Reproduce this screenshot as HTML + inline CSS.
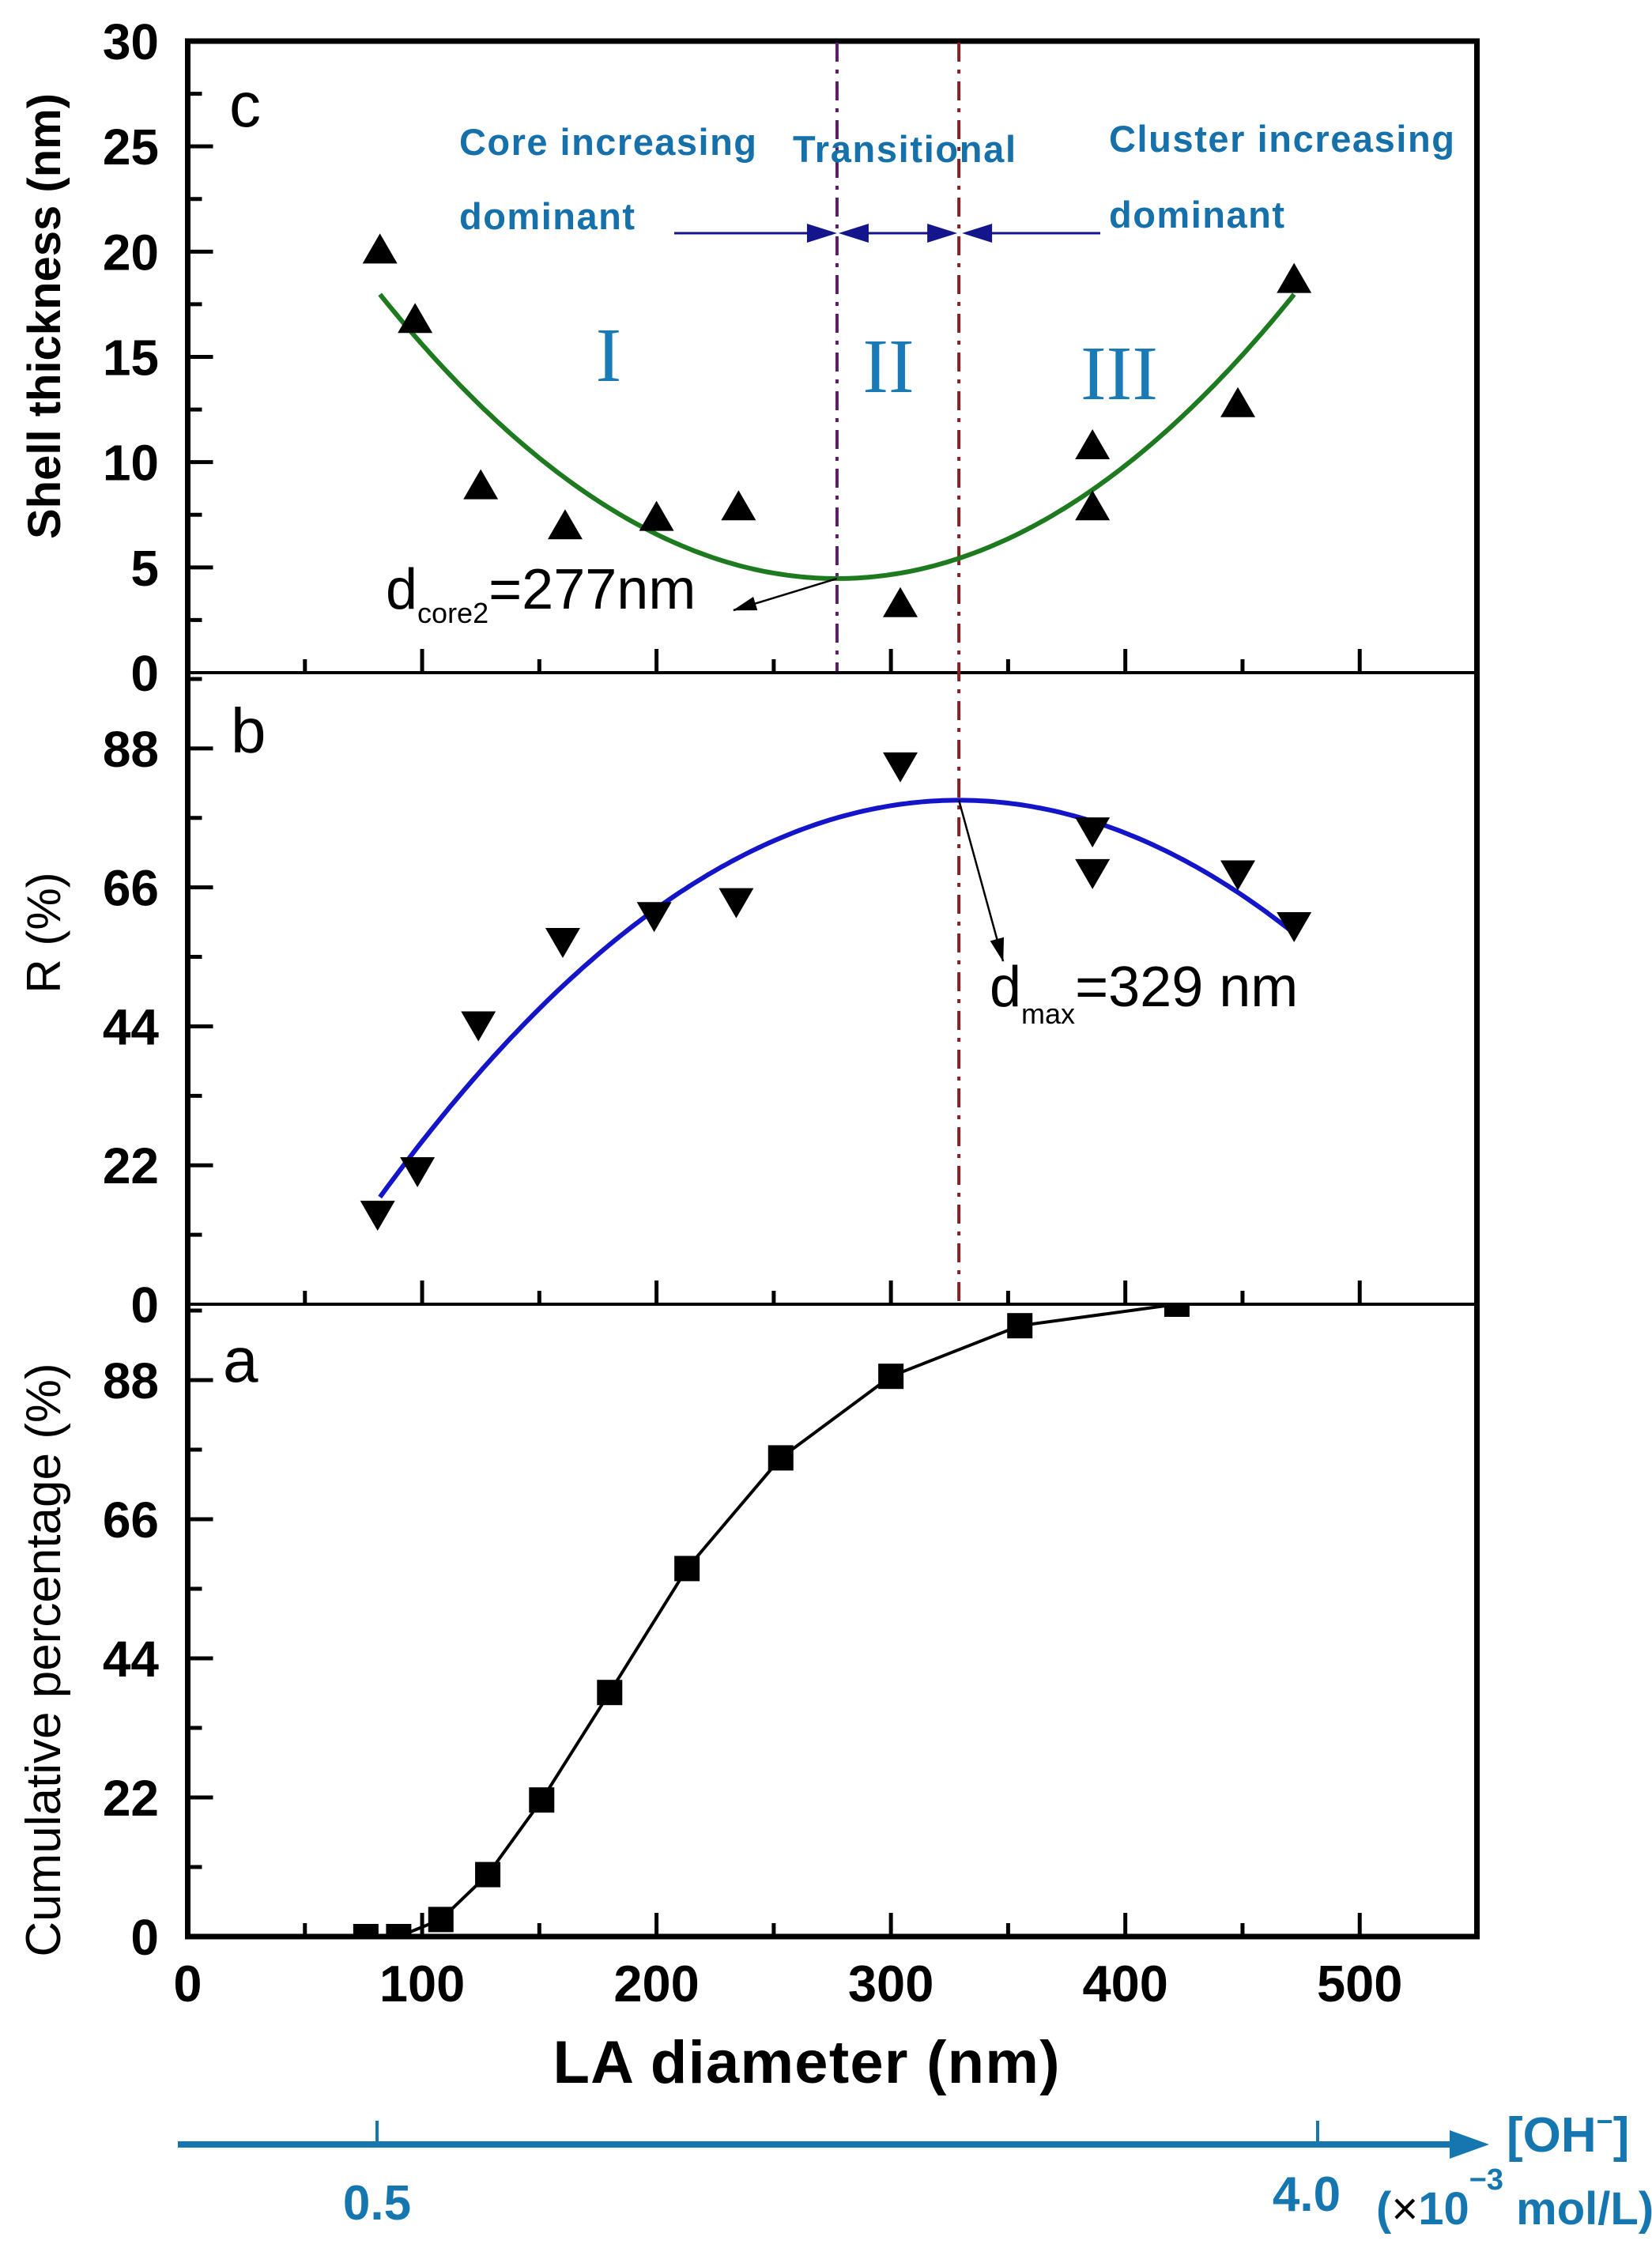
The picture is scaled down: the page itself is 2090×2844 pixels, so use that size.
<!DOCTYPE html>
<html><head><meta charset="utf-8"><style>
html,body{margin:0;padding:0;background:#fff;}
svg{display:block;}
text{font-family:"Liberation Sans",Arial,sans-serif;}
</style></head><body>
<svg id="chart" width="2090" height="2844" viewBox="0 0 2090 2844" xmlns="http://www.w3.org/2000/svg">
<defs>
<clipPath id="clipA"><rect x="237" y="1650" width="1632" height="800"/></clipPath>
<marker id="ah" markerWidth="30" markerHeight="18" refX="29" refY="9" orient="auto" markerUnits="userSpaceOnUse" viewBox="0 0 30 18"><path d="M0,0 L30,9 L0,18 z" fill="#000"/></marker>
</defs>
<g id="layer"></g>
</svg>
<script>
// ---- data ----
const xTicks = [0,100,200,300,400,500];
const cTicks = [0,5,10,15,20,25,30];
const bTicks = [0,22,44,66,88];
const aTicks = [0,22,44,66,88];
const shellX = [82,97,125,161,200,235,304,386,386,448,472];
const shellY = [20.0,16.7,8.8,6.9,7.3,7.8,3.2,10.7,7.8,12.7,18.6];
const shellFit = [277, 4.47, 0.000355]; // vertex x, vertex y, curvature
const shellFitRange = [82,472];
const rX = [81,98,124,160,199,234,304,386,386,448,472];
const rY = [14.5,21.4,44.5,57.7,61.8,64.0,85.5,75.2,68.6,68.4,60.2];
const rFit = [329, 79.8, 0.00103];
const rFitRange = [82,472];
const cumX = [76,90,108,128,151,180,213,253,300,355,422];
const cumY = [0,0,2.7,9.8,21.6,38.6,58.2,75.7,88.6,96.6,100];
const dCore = 277, dMax = 329;

// ---- layout ----
const L=237.5, R=1868.5, X0=0, X1=550;
const panels = {c:{top:52,bot:851,max:30}, b:{top:851,bot:1650,max:100}, a:{top:1650,bot:2450,max:100}};
const sx = v => L + (v - X0) / (X1 - X0) * (R - L);
const sy = (p, v) => panels[p].bot - v / panels[p].max * (panels[p].bot - panels[p].top);

const NS = "http://www.w3.org/2000/svg";
const g = document.getElementById('layer');
function mk(tag, attrs, parent){
  const e = document.createElementNS(NS, tag);
  for (const k in attrs) e.setAttribute(k, attrs[k]);
  (parent || g).appendChild(e);
  return e;
}
function txt(x,y,s,size,opts){
  const t = mk('text',{x:x,y:y,'font-size':size});
  if(opts){for(const k in opts) t.setAttribute(k,opts[k]);}
  t.textContent = s;
  return t;
}

['c','b','a'].forEach(p => {
  const P = panels[p];
  for (let v = 0; v <= 550; v += 50) {
    const major = v % 100 === 0;
    if (v === 0 || v === 550) continue;
    const t = mk('line',{x1:sx(v),x2:sx(v),y1:P.bot,y2:P.bot-(major?30:17),stroke:'#000','stroke-width':5});
    
    
  }
  const ticks = p==='c'?cTicks:(p==='b'?bTicks:aTicks);
  const step = ticks[1]-ticks[0];
  for (let i=0;i<ticks.length;i++){
    const v=ticks[i];
    const y=sy(p,v);
    if (v>0){
      const t = mk('line',{x1:L,x2:L+32,y1:y,y2:y,stroke:'#000','stroke-width':5});
      
      
    }
    const mv = v + step/2;
    if (mv < P.max){
      const m = mk('line',{x1:L,x2:L+18,y1:sy(p,mv),y2:sy(p,mv),stroke:'#000','stroke-width':5});
      
      
    }
    const lb = txt(201, y+23, String(v), 64, {'font-weight':'bold','text-anchor':'end'});
    
    
  }
});
mk('rect',{x:L,y:52,width:R-L,height:2450-52,fill:'none',stroke:'#000','stroke-width':7,});
mk('line',{x1:L,x2:R,y1:851,y2:851,stroke:'#000','stroke-width':4,});
mk('line',{x1:L,x2:R,y1:1650,y2:1650,stroke:'#000','stroke-width':4,});

xTicks.forEach(v=>{
  const t = txt(sx(v), 2532, String(v), 65, {'font-weight':'bold','text-anchor':'middle'});
  
  
});

const vl1 = mk('line',{x1:sx(dCore),x2:sx(dCore),y1:54,y2:849,stroke:'#5b1d6b','stroke-width':4,'stroke-dasharray':'24 10 5 10'});


const vl2 = mk('line',{x1:sx(dMax),x2:sx(dMax),y1:54,y2:1648,stroke:'#8a1f22','stroke-width':4,'stroke-dasharray':'24 10 5 10'});



function fitPath(p, fit, range){
  let d='';
  for(let x=range[0]; x<=range[1]; x+=2){
    const y = fit[1] + (p==='c'?1:-1)*fit[2]*(x-fit[0])*(x-fit[0]);
    d += (d?'L':'M') + sx(x).toFixed(1) + ',' + sy(p,y).toFixed(1);
  }
  return d;
}
const gc = mk('path',{d:fitPath('c',shellFit,shellFitRange),fill:'none',stroke:'#1e7a1e','stroke-width':6});


const bc = mk('path',{d:fitPath('b',rFit,rFitRange),fill:'none',stroke:'#1414c8','stroke-width':6});



shellX.forEach((x,i)=>{
  const cx=sx(x), cy=sy('c',shellY[i]);
  const m = mk('path',{d:`M${cx-22},${cy+15} L${cx+22},${cy+15} L${cx},${cy-23} Z`,fill:'#000'});
  
  
});
rX.forEach((x,i)=>{
  const cx=sx(x), cy=sy('b',rY[i]);
  const m = mk('path',{d:`M${cx-22},${cy-15} L${cx+22},${cy-15} L${cx},${cy+23} Z`,fill:'#000'});
  
  
});
const cg = mk('g',{'clip-path':'url(#clipA)'});


let dl='';
cumX.forEach((x,i)=>{ dl += (i?'L':'M') + sx(x) + ',' + sy('a',cumY[i]); });
const cl = mk('path',{d:dl,fill:'none',stroke:'#000','stroke-width':4},cg);


cumX.forEach((x,i)=>{
  const r = mk('rect',{x:sx(x)-16,y:sy('a',cumY[i])-16,width:32,height:32,fill:'#000'},cg);
  
  
});

const blue='#1670aa';
txt(290,160,'c',80,{});
txt(292,952,'b',80,{});
txt(282,1748,'a',80,{});
txt(581,196,'Core increasing',47,{fill:blue,'font-weight':'bold',textLength:376,});
txt(581,290,'dominant',47,{fill:blue,'font-weight':'bold',textLength:222,});
txt(1003,205,'Transitional',47,{fill:blue,'font-weight':'bold',textLength:282,});
txt(1403,192,'Cluster increasing',47,{fill:blue,'font-weight':'bold',textLength:437,});
txt(1403,288,'dominant',47,{fill:blue,'font-weight':'bold',textLength:222,});
const ser={style:'font-family:"Liberation Serif","DejaVu Serif",serif',fill:'#1a7ab5','text-anchor':'middle'};
txt(770,482,'I',98,Object.assign({},ser));
txt(1124,496,'II',98,Object.assign({},ser));
txt(1416,505,'III',98,Object.assign({},ser));

const navy='#14148c';
function arrowHead(x,y,dir){
  const p = mk('path',{d:`M${x},${y} L${x-dir*38},${y-12} L${x-dir*38},${y+12} Z`,fill:navy});
  
  
}
const ay=295;
mk('line',{x1:853,x2:1040,y1:ay,y2:ay,stroke:navy,'stroke-width':3,});
arrowHead(sx(dCore),ay,1);
mk('line',{x1:sx(dCore)+20,x2:sx(dMax)-20,y1:ay,y2:ay,stroke:navy,'stroke-width':3,});
arrowHead(sx(dCore)+2,ay,-1);
arrowHead(sx(dMax)-2,ay,1);
mk('line',{x1:sx(dMax)+20,x2:1392,y1:ay,y2:ay,stroke:navy,'stroke-width':3,});
arrowHead(sx(dMax)+4,ay,-1);

const t1 = txt(488,770,'',72,{});
t1.innerHTML = 'd<tspan font-size="36" dy="18">core2</tspan><tspan dy="-18">=277nm</tspan>';
mk('line',{x1:sx(dCore),x2:928,y1:sy('c',shellFit[1]),y2:772,stroke:'#000','stroke-width':2.5,'marker-end':'url(#ah)',});
const t2 = txt(1252,1273,'',72,{});
t2.innerHTML = 'd<tspan font-size="36" dy="22">max</tspan><tspan dy="-22">=329 nm</tspan>';
mk('line',{x1:sx(dMax),x2:1269,y1:sy('b',rFit[1]),y2:1216,stroke:'#000','stroke-width':2.5,'marker-end':'url(#ah)',});

txt(0,0,'Shell thickness (nm)',58,{'font-weight':'bold','text-anchor':'middle',transform:'translate(76,400) rotate(-90)',});
txt(0,0,'R (%)',60,{'text-anchor':'middle',transform:'translate(76,1180) rotate(-90)',});
txt(0,0,'Cumulative percentage (%)',62,{'text-anchor':'middle',transform:'translate(76,2100) rotate(-90)',});
txt(1020,2635,'LA diameter (nm)',76,{'font-weight':'bold','text-anchor':'middle',textLength:641,});

const oh='#1677b0';
mk('line',{x1:225,x2:1840,y1:2713,y2:2713,stroke:oh,'stroke-width':8,});
mk('path',{d:'M1884,2713 L1834,2695 L1834,2731 Z',fill:oh,});
mk('line',{x1:477,x2:477,y1:2683,y2:2713,stroke:oh,'stroke-width':4,});
mk('line',{x1:1667,x2:1667,y1:2683,y2:2713,stroke:oh,'stroke-width':4,});
txt(477,2808,'0.5',62,{fill:oh,'font-weight':'bold','text-anchor':'middle',});
txt(1653,2797,'4.0',62,{fill:oh,'font-weight':'bold','text-anchor':'middle',});
const o1 = txt(1906,2722,'',62,{fill:oh,'font-weight':'bold',});
o1.innerHTML='[OH<tspan font-size="36" dy="-26">−</tspan><tspan dy="26">]</tspan>';
const o2 = txt(1741,2814,'',58,{fill:oh,'font-weight':'bold',});
o2.innerHTML='(<tspan fill="#000" font-weight="normal">×</tspan>10<tspan font-size="38" dy="-44">−3</tspan><tspan dy="44"> mol/L)</tspan>';
</script>
</body></html>
